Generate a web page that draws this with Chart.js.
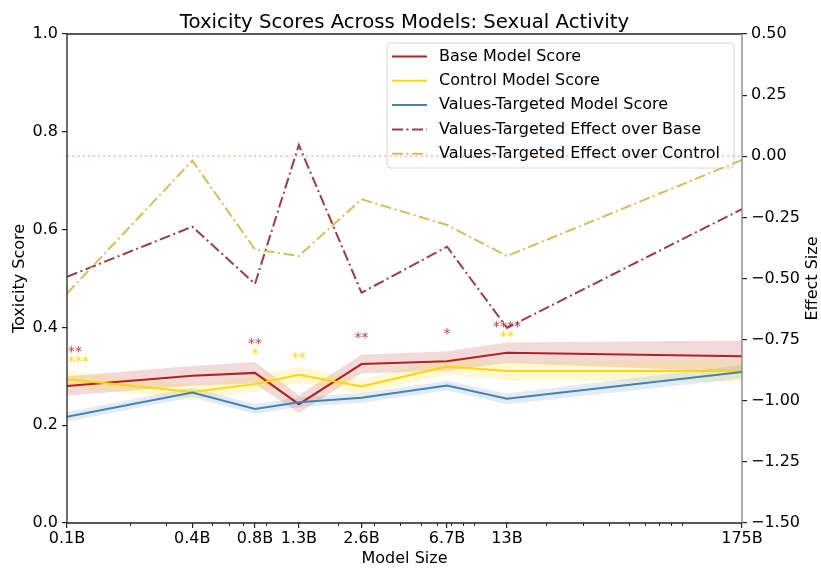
<!DOCTYPE html>
<html><head><meta charset="utf-8">
<script src="https://cdn.jsdelivr.net/npm/chart.js@4"></script>
<style>html,body{margin:0;padding:0;background:#fff;}canvas{display:block;}</style>
</head><body>
<canvas id="c" width="821" height="571"></canvas>
<script>
// ---- data ----
const SIZES = [0.1, 0.4, 0.8, 1.3, 2.6, 6.7, 13, 175];
const SIZE_LABELS = ['0.1B', '0.4B', '0.8B', '1.3B', '2.6B', '6.7B', '13B', '175B'];

const BASE       = [0.280, 0.301, 0.307, 0.243, 0.325, 0.331, 0.348, 0.341];
const BASE_LO    = [0.260, 0.281, 0.285, 0.225, 0.306, 0.311, 0.327, 0.309];
const BASE_HI    = [0.300, 0.321, 0.329, 0.261, 0.344, 0.351, 0.369, 0.373];

const CONTROL    = [0.294, 0.268, 0.284, 0.303, 0.279, 0.320, 0.311, 0.311];
const CONTROL_LO = [0.278, 0.253, 0.268, 0.287, 0.264, 0.303, 0.291, 0.289];
const CONTROL_HI = [0.310, 0.283, 0.300, 0.319, 0.294, 0.337, 0.331, 0.333];

const VT         = [0.217, 0.267, 0.233, 0.247, 0.256, 0.281, 0.254, 0.309];
const VT_LO      = [0.207, 0.257, 0.223, 0.237, 0.246, 0.271, 0.243, 0.295];
const VT_HI      = [0.227, 0.277, 0.243, 0.257, 0.266, 0.291, 0.265, 0.323];

const EFFECT_BASE    = [-0.493, -0.288, -0.522, 0.046, -0.558, -0.370, -0.702, -0.216];
const EFFECT_CONTROL = [-0.561, -0.018, -0.381, -0.408, -0.176, -0.281, -0.408, -0.015];
const ZERO_EFFECT = 0;

const STARS_BASE      = ['**', '', '**', '', '**', '*', '****', ''];
const STARS_BASE_Y    = [0.357, null, 0.374, null, 0.386, 0.395, 0.408, null];
const STARS_CONTROL   = ['***', '', '*', '**', '', '', '**', ''];
const STARS_CONTROL_Y = [0.337, null, 0.354, 0.344, null, null, 0.387, null];

const LEFT_TICK_STEP = 0.2;
const RIGHT_TICK_STEP = 0.25;

// ---- style ----
const FONT = 'DejaVu Sans';
const C_BASE = '#B22222', C_CTRL = '#FFD700', C_VT = '#4682B4';
const C_EB = '#953f49', C_EC = '#d5bd5e';
const DASHDOT = [11, 3.5, 2, 3.5];

function pts(arr) { return SIZES.map((s, i) => ({ x: s, y: arr[i] })); }

function band(lo, hi, color, order) {
  return [
    { data: pts(lo), borderWidth: 0, pointRadius: 0, fill: false, yAxisID: 'y', order: order },
    { data: pts(hi), borderWidth: 0, pointRadius: 0, fill: '-1', backgroundColor: color, yAxisID: 'y', order: order }
  ];
}
function line(arr, color, axis, dash, order, w) {
  return { data: pts(arr), borderColor: color, borderWidth: w || 2, borderDash: dash || [], pointRadius: 0,
           fill: false, yAxisID: axis, order: order, tension: 0 };
}

const datasets = [
  ...band(BASE_LO, BASE_HI, 'rgba(178,34,34,0.17)', 100),
  ...band(CONTROL_LO, CONTROL_HI, 'rgba(255,215,0,0.17)', 90),
  ...band(VT_LO, VT_HI, 'rgba(70,130,180,0.15)', 80),
  line(BASE, C_BASE, 'y', null, 70),
  line(CONTROL, C_CTRL, 'y', null, 60),
  line(VT, C_VT, 'y', null, 50),
  { data: [{ x: SIZES[0], y: ZERO_EFFECT }, { x: SIZES[SIZES.length - 1], y: ZERO_EFFECT }],
    borderColor: 'rgba(255,0,0,0.32)', borderWidth: 1.6, borderDash: [2, 3.2], pointRadius: 0,
    fill: false, yAxisID: 'y2', order: 40 },
  line(EFFECT_BASE, C_EB, 'y2', DASHDOT, 30),
  line(EFFECT_CONTROL, C_EC, 'y2', DASHDOT, 20)
];

const LEGEND_ITEMS = [
  { label: 'Base Model Score', color: C_BASE, dash: [] },
  { label: 'Control Model Score', color: C_CTRL, dash: [] },
  { label: 'Values-Targeted Model Score', color: C_VT, dash: [] },
  { label: 'Values-Targeted Effect over Base', color: C_EB, dash: DASHDOT },
  { label: 'Values-Targeted Effect over Control', color: C_EC, dash: DASHDOT }
];

function roundRect(ctx, x, y, w, h, r) {
  ctx.beginPath();
  ctx.moveTo(x + r, y);
  ctx.lineTo(x + w - r, y); ctx.quadraticCurveTo(x + w, y, x + w, y + r);
  ctx.lineTo(x + w, y + h - r); ctx.quadraticCurveTo(x + w, y + h, x + w - r, y + h);
  ctx.lineTo(x + r, y + h); ctx.quadraticCurveTo(x, y + h, x, y + h - r);
  ctx.lineTo(x, y + r); ctx.quadraticCurveTo(x, y, x + r, y);
  ctx.closePath();
}

const deco = {
  id: 'deco',
  beforeDatasetsDraw(chart) {
    const ctx = chart.ctx, a = chart.chartArea;
    const bx = 387, by = a.top + 9, bw = a.right - 8 - bx, bh = 125;
    ctx.save();
    roundRect(ctx, bx, by, bw, bh, 4);
    ctx.fillStyle = 'rgba(255,255,255,0.8)'; ctx.fill();
    ctx.strokeStyle = '#d6d6d6'; ctx.lineWidth = 1; ctx.stroke();
    ctx.font = '16px "' + FONT + '"';
    ctx.textBaseline = 'middle'; ctx.textAlign = 'left';
    LEGEND_ITEMS.forEach((it, i) => {
      const y = by + 13.5 + i * 24.3;
      ctx.beginPath();
      ctx.setLineDash(it.dash);
      ctx.strokeStyle = it.color; ctx.lineWidth = 2;
      ctx.moveTo(bx + 5, y); ctx.lineTo(bx + 40, y); ctx.stroke();
      ctx.setLineDash([]);
      ctx.fillStyle = '#000';
      ctx.fillText(it.label, bx + 52, y);
    });
    ctx.restore();
  },
  afterDatasetsDraw(chart) {
    const ctx = chart.ctx, xs = chart.scales.x, ys = chart.scales.y;
    ctx.save();
    ctx.font = '14px "' + FONT + '"';
    ctx.textBaseline = 'alphabetic';
    const drawStars = (labels, vals, color) => {
      labels.forEach((s, i) => {
        if (!s) return;
        const x = xs.getPixelForValue(SIZES[i]);
        const y = ys.getPixelForValue(vals[i]);
        ctx.textAlign = i === 0 ? 'left' : 'center';
        ctx.fillStyle = color;
        ctx.fillText(s, i === 0 ? x + 1 : x, y + 14 * 0.55);
      });
    };
    drawStars(STARS_BASE, STARS_BASE_Y, 'rgba(178,34,34,0.85)');
    drawStars(STARS_CONTROL, STARS_CONTROL_Y, C_CTRL);
    ctx.restore();
  },
  afterDraw(chart) {
    const ctx = chart.ctx, a = chart.chartArea, xs = chart.scales.x;
    ctx.save();
    // frame
    ctx.lineWidth = 1.3;
    ctx.strokeStyle = '#222';
    ctx.beginPath();
    ctx.moveTo(a.right, a.top); ctx.lineTo(a.left, a.top); ctx.lineTo(a.left, a.bottom); ctx.lineTo(a.right, a.bottom);
    ctx.stroke();
    ctx.strokeStyle = '#808080';
    ctx.beginPath(); ctx.moveTo(a.right, a.top); ctx.lineTo(a.right, a.bottom); ctx.stroke();
    // minor log ticks
    ctx.strokeStyle = '#222'; ctx.lineWidth = 1;
    [0.1, 1, 10, 100].forEach(d => {
      for (let k = 2; k <= 9; k++) {
        const v = k * d;
        if (v > SIZES[SIZES.length - 1] || v < SIZES[0]) continue;
        if (SIZES.some(s => Math.abs(s - v) < 1e-9)) continue;
        const px = Math.round(xs.getPixelForValue(v)) + 0.5;
        ctx.beginPath(); ctx.moveTo(px, a.bottom); ctx.lineTo(px, a.bottom + 3); ctx.stroke();
      }
    });
    // title
    ctx.fillStyle = '#000';
    ctx.font = '19.7px "' + FONT + '"';
    ctx.textAlign = 'center'; ctx.textBaseline = 'alphabetic';
    ctx.fillText('Toxicity Scores Across Models: Sexual Activity', (a.left + a.right) / 2, 28);
    // right axis title (reads bottom-to-top)
    ctx.font = '16px "' + FONT + '"';
    ctx.textBaseline = 'middle';
    ctx.translate(chart.width - 8, (a.top + a.bottom) / 2);
    ctx.rotate(-Math.PI / 2);
    ctx.fillText('Effect Size', 0, 0);
    ctx.restore();
  }
};

const tickFont = { family: FONT, size: 16 };
const titleFont = { family: FONT, size: 16, lineHeight: 1 };

new Chart(document.getElementById('c'), {
  type: 'line',
  data: { datasets },
  plugins: [deco],
  options: {
    responsive: false,
    devicePixelRatio: 1,
    animation: false,
    events: [],
    layout: { padding: { top: 34, left: 0, right: 0, bottom: 0 } },
    plugins: { legend: { display: false }, tooltip: { enabled: false }, title: { display: false } },
    scales: {
      x: {
        type: 'logarithmic',
        min: SIZES[0], max: SIZES[SIZES.length - 1],
        afterBuildTicks: (s) => { s.ticks = SIZES.map(v => ({ value: v })); },
        ticks: { autoSkip: false, maxRotation: 0, minRotation: 0, font: tickFont, color: '#000', padding: 1,
                 callback: (v, i) => SIZE_LABELS[i] },
        grid: { display: true, drawOnChartArea: false, drawTicks: true, tickLength: 5, color: '#222', lineWidth: 1.2 },
        border: { display: false },
        title: { display: true, text: 'Model Size', font: titleFont, color: '#000', padding: { top: 0, bottom: 4 } },
        afterFit: (s) => { s.height = 48; }
      },
      y: {
        position: 'left', min: 0, max: 1,
        ticks: { stepSize: LEFT_TICK_STEP, font: tickFont, color: '#000', padding: 4, callback: (v) => v.toFixed(1) },
        grid: { display: true, drawOnChartArea: false, drawTicks: true, tickLength: 5, color: '#222', lineWidth: 1.2 },
        border: { display: false },
        title: { display: true, text: 'Toxicity Score', font: titleFont, color: '#000', padding: { top: 12, bottom: 0 } },
        afterFit: (s) => { s.width = 67; }
      },
      y2: {
        position: 'right', min: -1.5, max: 0.5,
        ticks: { stepSize: RIGHT_TICK_STEP, font: tickFont, color: '#000', padding: 4,
                 callback: (v) => Math.abs(v) < 1e-9 ? '0.00' : v.toFixed(2).replace('-', '\u2212') },
        grid: { display: true, drawOnChartArea: false, drawTicks: true, tickLength: 5, color: '#222', lineWidth: 1.2 },
        border: { display: false },
        title: { display: false },
        afterFit: (s) => { s.width = 79; }
      }
    }
  }
});
</script>
</body></html>
